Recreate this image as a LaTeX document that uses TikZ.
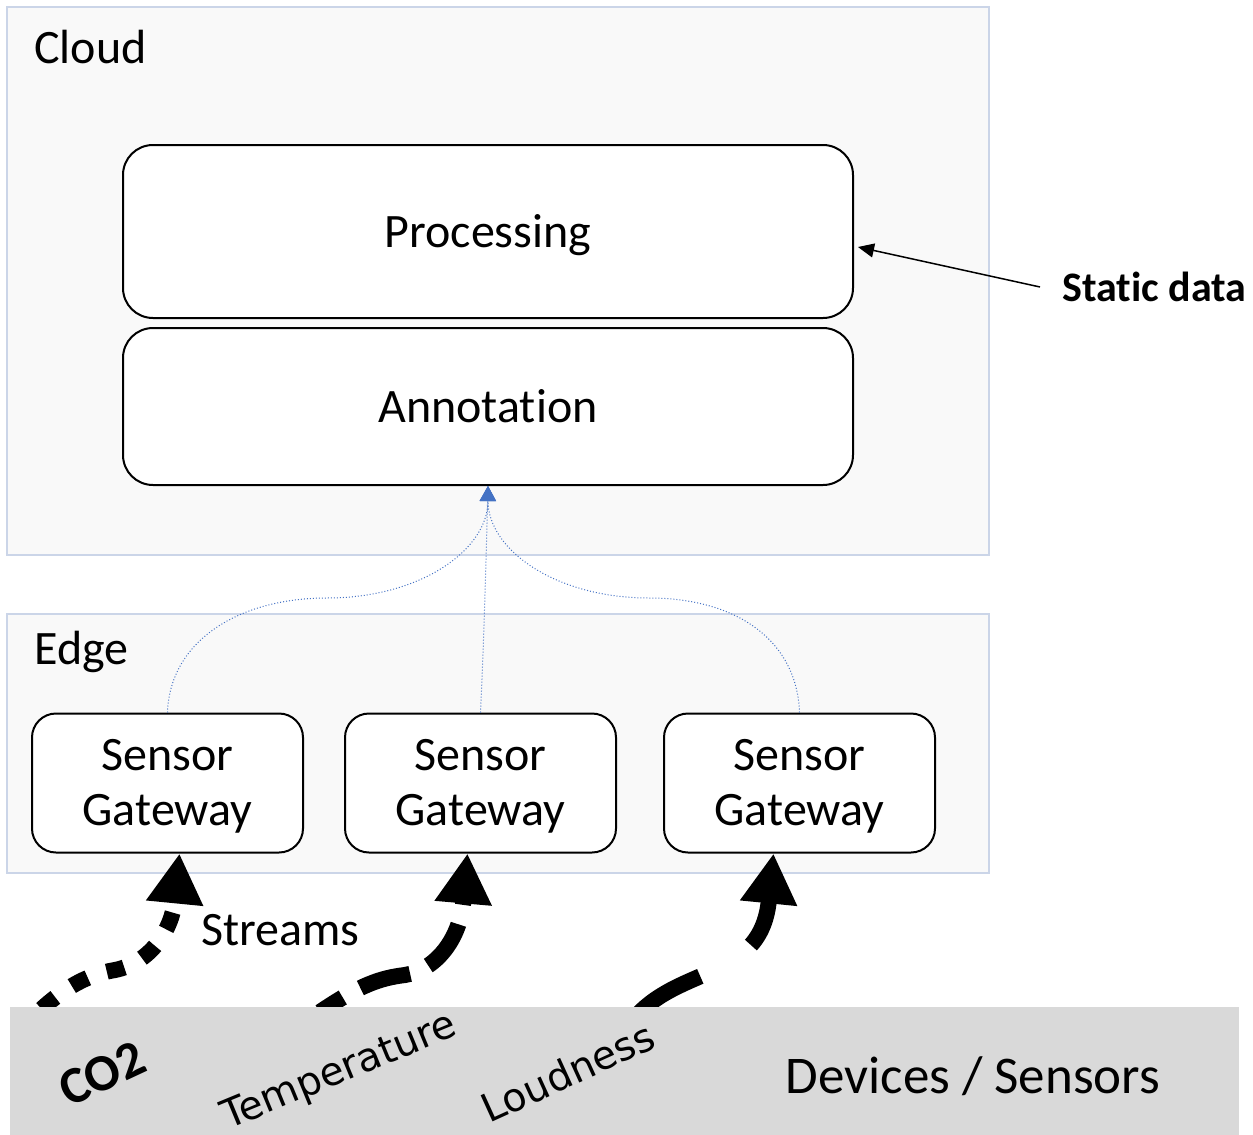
\documentclass[tikz,border=0pt]{standalone}
\usepackage{fontspec}
\setmainfont{Carlito}[Ligatures=NoCommon]
\newfontfamily\quantityfont{DejaVu Sans}
\usetikzlibrary{arrows.meta,calc}
\definecolor{panelfill}{HTML}{F9F9F9}
\definecolor{panelline}{HTML}{CBD5E8}
\definecolor{devfill}{HTML}{D9D9D9}
\definecolor{flowblue}{HTML}{4472C4}
\begin{document}
\begin{tikzpicture}[x=0.5pt,y=-0.5pt,
  every node/.style={font=\fontsize{24}{27.5}\selectfont},
  panel/.style={draw=panelline,fill=panelfill,line width=0.6pt,inner sep=0pt},
  stage/.style={draw=black,fill=white,line width=1pt,rounded corners=15pt,
    minimum width=365pt,inner sep=0pt,text height=15.5pt,text depth=0pt},
  gateway/.style={draw=black,fill=white,line width=1pt,rounded corners=12pt,
    minimum width=135.5pt,minimum height=69.5pt,align=center,inner sep=0pt,
    text height=47pt,text depth=5pt},
  uplink/.style={draw=flowblue,line width=0.5pt,densely dotted,
    -{Triangle[length=7.5pt,width=8pt]}},
  stream/.style={draw=black,line width=8pt,
    -{Triangle[length=25pt,width=27pt]}},
  tag/.style={inner sep=0pt},
  quantity/.style={inner sep=0pt,anchor=base west,
    font=\quantityfont\fontsize{19.7}{23}\selectfont}]
\useasboundingbox (0,0) rectangle (1253,1135);

% tiers
\node[panel,minimum width=491pt,minimum height=274pt] (cloud) at (498,281) {};
\node[panel,minimum width=491pt,minimum height=129.5pt] (edge) at (498,743.5) {};
\node[tag,anchor=west] (cloudlbl) at (34,47) {Cloud};
\node[tag,anchor=west] (edgelbl) at (34,652) {Edge};

% cloud stages
\node[stage,minimum height=86.5pt] (proc) at (488,231.5) {Processing};
\node[stage,minimum height=78.5pt] (anno) at (488,406.5) {Annotation};

% static input
\node[tag,font=\fontsize{21}{25}\selectfont\bfseries,anchor=west] (static) at (1062,287) {Static data};
\draw[line width=0.75pt,-{Triangle[length=8pt,width=7pt]}]
  ([xshift=-11pt]static.west) -- ([xshift=2pt,yshift=-7.75pt]proc.east);

% gateways
\node[gateway] (gw1) at (167.5,783) {Sensor\\Gateway};
\node[gateway] (gw2) at (480.5,783) {Sensor\\Gateway};
\node[gateway] (gw3) at (799.5,783) {Sensor\\Gateway};

% gateway to cloud links
\draw[uplink] (gw1.north) .. controls (170,640) and (240,598) .. (327,598)
  .. controls (420,598) and (488,550) .. (anno.south);
\draw[uplink] (gw2.north) .. controls (484,640) and (486,560) .. (anno.south);
\draw[uplink] (gw3.north) .. controls (797,640) and (736,598) .. (649,598)
  .. controls (556,598) and (488,550) .. (anno.south);

% sensor streams (start hidden behind the device bar)
\coordinate (co2src) at (30,1020);
\coordinate (tmpsrc) at (320,1012);
\coordinate (loudsrc) at (620,1040);
\draw[stream,dash pattern=on 9pt off 10pt,dash phase=11pt]
  (co2src) .. controls (60,990) and (85,975) .. (115,970)
  .. controls (150,963) and (172,930) .. ([xshift=6pt]gw1.south);
\draw[stream,dash pattern=on 26pt off 10pt,dash phase=12.5pt]
  (tmpsrc) .. controls (360,985) and (380,978) .. (405,975)
  .. controls (435,970) and (460,940) .. ([xshift=-6.5pt]gw2.south);
\draw[stream,dash pattern=on 40pt off 30pt,dash phase=57.5pt]
  (loudsrc) .. controls (660,960) and (760,990) .. ([xshift=-13pt]gw3.south);
\node[tag,anchor=west] (streams) at (201,930) {Streams};

% device bar
\node[fill=devfill,minimum width=614.5pt,minimum height=64pt,inner sep=0pt] (dev) at (624.5,1071) {};
\node[tag,anchor=base west,font=\fontsize{26}{30}\selectfont\bfseries,rotate=25] (co2) at (69,1108) {CO2};
\node[quantity,rotate=22.4] (temp) at (228,1130) {Temperature};
\node[quantity,rotate=24.5] (loud) at (489,1124) {Loudness};
\node[tag,font=\fontsize{26.5}{30}\selectfont] (devlbl) at (973,1076) {Devices / Sensors};
\end{tikzpicture}
\end{document}
